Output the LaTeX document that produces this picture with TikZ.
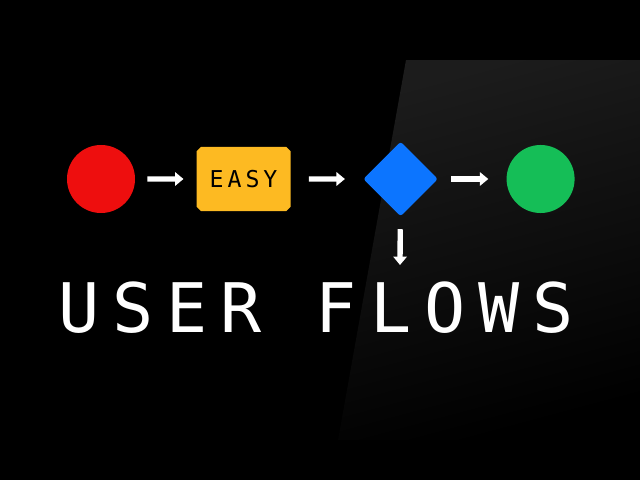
\documentclass[tikz,border=0pt]{standalone}
\usepackage{fontspec}
\usepackage{tikz}
\usetikzlibrary{shapes.geometric, shapes.misc, arrows.meta, positioning}
\newfontfamily\pixelfont[LetterSpace=17]{DejaVu Sans Mono}
\newfontfamily\titlefont[LetterSpace=19]{DejaVu Sans Mono}
\definecolor{flowred}{HTML}{EE0E0E}
\definecolor{flowamber}{HTML}{FDBA22}
\definecolor{flowblue}{HTML}{0C75FF}
\definecolor{flowgreen}{HTML}{15BE57}
\tikzstyle{startdot} = [circle, minimum size=1.7cm, inner sep=0pt, fill=flowred]
\tikzstyle{taskbox} = [chamfered rectangle, chamfered rectangle xsep=1.5pt, chamfered rectangle ysep=1.5pt, minimum width=2.35cm, minimum height=1.6cm, inner sep=0pt, fill=flowamber, text=black, font=\pixelfont\fontsize{16.5}{18}\selectfont]
\tikzstyle{decision} = [diamond, minimum size=1.87cm, inner sep=0pt, rounded corners=2pt, fill=flowblue]
\tikzstyle{enddot} = [circle, minimum size=1.7cm, inner sep=0pt, fill=flowgreen]
\tikzstyle{arrow} = [white, line width=3.8pt, -{Triangle[width=9.5pt,length=6pt]}]

\begin{document}
\begin{tikzpicture}[x=0.025cm, y=-0.025cm]
		% backdrop and tilted panel
		\fill[black] (0,0) rectangle (640,480);
		\shade[top color=black!89, bottom color=black, shading angle=15] (406,60) -- (640,60) -- (640,440) -- (338,440) -- cycle;
		\node (start) [startdot] at (101,179) {};
		\node (easy) [taskbox, right=1.525cm of start] {EASY};
		\node (choice) [decision, right=1.8cm of easy] {};
		\node (done) [enddot, right=1.7cm of choice] {};
		\coordinate (down) at (400,265);
		\draw [arrow, shorten <=0.3cm, shorten >=0.32cm] (start) -- (easy);
		\draw [arrow, shorten <=0.45cm, shorten >=0.45cm] (easy) -- (choice);
		\draw [arrow, shorten <=0.32cm, shorten >=0.45cm] (choice) -- (done);
		\draw [arrow, shorten <=0.32cm] (choice) -- (down);
		\node (title) [anchor=base west, inner sep=0pt, text=white, font=\titlefont\fontsize{48.6}{50}\selectfont] at (58,332) {USER FLOWS};
		\end{tikzpicture}
\end{document}
